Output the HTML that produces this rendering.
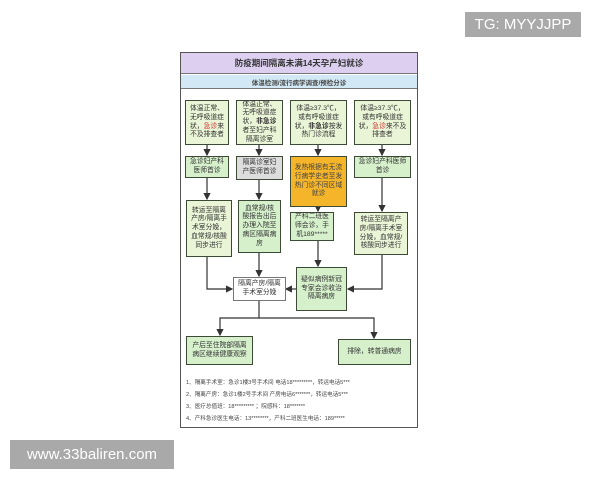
<!DOCTYPE html>
<html><head><meta charset="utf-8"><style>
*{margin:0;padding:0;box-sizing:border-box}
body{width:600px;height:480px;background:#fff;position:relative;overflow:hidden;font-family:"Liberation Sans","Noto Sans CJK SC",sans-serif}
.b{position:absolute;border:1.3px solid #3d4a36;display:flex;align-items:center;justify-content:center;text-align:center;font-size:6.8px;line-height:8.8px;color:#333;padding:1px 3px}
.b>div{width:100%}
.g{background:#d6f0cc}.y{background:#eaf4d6}.r{color:#d03030}
.wm{position:absolute;background:#a9a9a9;color:#fff;font-size:15px;display:flex;align-items:center;justify-content:center}
.ft{position:absolute;left:186px;font-size:5.6px;color:#444;white-space:nowrap}
</style></head><body>
<div class="wm" style="left:465px;top:12px;width:116px;height:25px">TG: MYYJJPP</div>
<div class="wm" style="left:10px;top:440px;width:164px;height:29px">www.33baliren.com</div>
<div style="position:absolute;left:180px;top:52px;width:238px;height:376px;border:1.5px solid #555;background:#fff"></div>
<div style="position:absolute;left:181px;top:53px;width:236px;height:21px;background:#dccff0;border-bottom:1px solid #777;font-size:8.5px;font-weight:bold;display:flex;align-items:center;justify-content:center;color:#333">防疫期间隔离未满14天孕产妇就诊</div>
<div style="position:absolute;left:181px;top:75px;width:236px;height:14px;background:#d2e8f5;border-bottom:1px solid #777;font-size:6.5px;font-weight:bold;display:flex;align-items:center;justify-content:center;color:#444">体温检测/流行病学调查/预检分诊</div>
<svg style="position:absolute;left:0;top:0" width="600" height="480">
<defs><marker id="a" markerWidth="6" markerHeight="6" refX="5" refY="3" orient="auto"><path d="M0,0L6,3L0,6z" fill="#333"/></marker></defs>
<g stroke="#333" stroke-width="1.2" fill="none">
<path d="M207 145V155" marker-end="url(#a)"/><path d="M259 145V155" marker-end="url(#a)"/><path d="M318 145V155" marker-end="url(#a)"/><path d="M382 145V155" marker-end="url(#a)"/>
<path d="M207 178V199" marker-end="url(#a)"/><path d="M259 180V199" marker-end="url(#a)"/><path d="M318 207V211" marker-end="url(#a)"/><path d="M382 178V211" marker-end="url(#a)"/>
<path d="M318 241V266" marker-end="url(#a)"/>
<path d="M207 257V289H232" marker-end="url(#a)"/><path d="M259 253V276" marker-end="url(#a)"/>
<path d="M296 289H286" marker-end="url(#a)"/><path d="M382 255V289H348" marker-end="url(#a)"/>
<path d="M259 301V318H220V335" marker-end="url(#a)"/><path d="M259 318H374V338" marker-end="url(#a)"/>
</g></svg>
<div class="b y" style="left:185px;top:100px;width:44px;height:45px"><div>体温正常、无呼吸道症状，<span class="r">急诊</span>来不及排查者</div></div>
<div class="b y" style="left:236px;top:100px;width:47px;height:45px"><div>体温正常、无呼吸道症状，<b>非急诊</b>者至妇产科隔离诊室</div></div>
<div class="b y" style="left:290px;top:100px;width:57px;height:45px"><div>体温≥37.3℃，或有呼吸道症状，<b>非急诊</b>按发热门诊流程</div></div>
<div class="b y" style="left:354px;top:100px;width:57px;height:45px"><div>体温≥37.3℃，或有呼吸道症状，<span class="r">急诊</span>来不及排查者</div></div>
<div class="b g" style="left:185px;top:156px;width:44px;height:22px"><div>急诊妇产科医师首诊</div></div>
<div class="b" style="left:236px;top:156px;width:47px;height:24px;background:#ddd"><div>隔离诊室妇产医师首诊</div></div>
<div class="b" style="left:290px;top:156px;width:57px;height:51px;background:#f5b52a;color:#444"><div>发热根据有无流行病学史者至发热门诊不同区域就诊</div></div>
<div class="b g" style="left:354px;top:156px;width:57px;height:22px"><div>急诊妇产科医师首诊</div></div>
<div class="b y" style="left:186px;top:200px;width:46px;height:57px"><div>转运至隔离产房/隔离手术室分娩，血常规/核酸同步进行</div></div>
<div class="b g" style="left:238px;top:200px;width:43px;height:53px"><div>血常规/核酸报告出后办理入院至病区隔离病房</div></div>
<div class="b g" style="left:290px;top:212px;width:44px;height:29px"><div>产科二班医师会诊，手机189*****</div></div>
<div class="b y" style="left:354px;top:212px;width:54px;height:43px"><div>转运至隔离产房/隔离手术室分娩，血常规/核酸同步进行</div></div>
<div class="b" style="left:233px;top:277px;width:53px;height:24px;background:#fff;border-color:#777"><div>隔离产房/隔离手术室分娩</div></div>
<div class="b g" style="left:296px;top:267px;width:51px;height:44px"><div>疑似病例新冠专家会诊收治隔离病房</div></div>
<div class="b g" style="left:186px;top:336px;width:67px;height:29px"><div>产后至住院部隔离病区继续健康观察</div></div>
<div class="b g" style="left:338px;top:339px;width:73px;height:26px"><div>排除，转普通病房</div></div>
<div class="ft" style="top:378px">1、隔离手术室：急诊1楼3号手术间 电话18*********，转运电话5***</div>
<div class="ft" style="top:390px">2、隔离产房：急诊1楼2号手术间 产房电话6*******，转运电话5***</div>
<div class="ft" style="top:402px">3、医疗总值班：18********* ；院感科：18*******</div>
<div class="ft" style="top:414px">4、产科急诊医生电话：13********，产科二班医生电话：189*****</div>
</body></html>
